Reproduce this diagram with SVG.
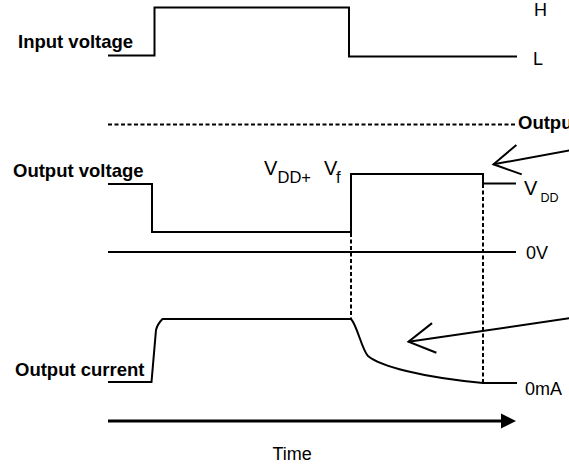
<svg xmlns="http://www.w3.org/2000/svg" width="569" height="466" viewBox="0 0 569 466">
<style>
.w{fill:none;stroke:#000;stroke-width:2;stroke-linejoin:miter}
.d{fill:none;stroke:#000;stroke-width:2;stroke-dasharray:4,2.5}
.b{font-family:"Liberation Sans",Arial,sans-serif;font-weight:bold;font-size:18.5px;fill:#000}
.r{font-family:"Liberation Sans",Arial,sans-serif;font-size:18px;fill:#000}
.a{fill:none;stroke:#000;stroke-width:2}
</style>
<defs>
<marker id="open" viewBox="-32 -20 34 40" markerWidth="34" markerHeight="40" refX="0" refY="0" orient="auto" markerUnits="userSpaceOnUse">
<polyline points="-26,-15 0,0 -26,15" fill="none" stroke="#000" stroke-width="2"/>
</marker>
</defs>
<rect width="569" height="466" fill="#fff"/>
<g id="input-voltage">
<polyline class="w" points="108,55.5 154.5,55.5 154.5,7.5 349,7.5 349,56.5 517,56.5"/>
<text class="b" x="18" y="48">Input voltage</text>
<text class="r" x="534" y="16">H</text>
<text class="r" x="533" y="65">L</text>
</g>
<g id="output-limit">
<line class="d" x1="108" y1="124.5" x2="515" y2="124.5"/>
<text class="b" x="518" y="129">Outpu</text>
</g>
<g id="output-voltage">
<polyline class="w" points="108,184 152,184 152,232 351,232 351,174 483,174 483,183.5 516,183.5"/>
<text class="b" x="13" y="177">Output voltage</text>
<text font-family="Liberation Sans, Arial, sans-serif" font-size="20"><tspan x="264" y="175">V</tspan><tspan x="277.5" y="183" font-size="16.5">DD+</tspan><tspan x="324" y="175">V</tspan><tspan x="336" y="183" font-size="16.5">f</tspan></text>
<text font-family="Liberation Sans, Arial, sans-serif" font-size="20"><tspan x="524" y="195">V</tspan><tspan x="540.5" y="202" font-size="12.5">DD</tspan></text>
</g>
<g id="zero-volt">
<line class="w" x1="108" y1="252" x2="516" y2="252"/>
<text class="r" x="526" y="259">0V</text>
</g>
<g id="guides">
<line class="d" x1="351" y1="233" x2="351" y2="319"/>
<line class="d" x1="483" y1="184" x2="483" y2="382"/>
</g>
<g id="output-current">
<path class="w" d="M108,382 L151.5,382 L156,330 Q157.5,324 162.5,319 L351,319 C357,325 362,350 368,356 C380,366 420,377 483,383 L517,383"/>
<text class="b" x="15" y="376">Output current</text>
<text class="r" x="525" y="395">0mA</text>
</g>
<g id="time-axis">
<line x1="108" y1="421" x2="502" y2="421" stroke="#000" stroke-width="3"/>
<polygon points="501,413.5 516,421 501,428.5" fill="#000"/>
<text class="r" x="272.5" y="460">Time</text>
</g>
<g id="connectors">
<line class="a" x1="580" y1="148.6" x2="493.5" y2="164.3" marker-end="url(#open)"/>
<line class="a" x1="580" y1="316.7" x2="408.5" y2="341.7" marker-end="url(#open)"/>
</g>
</svg>
